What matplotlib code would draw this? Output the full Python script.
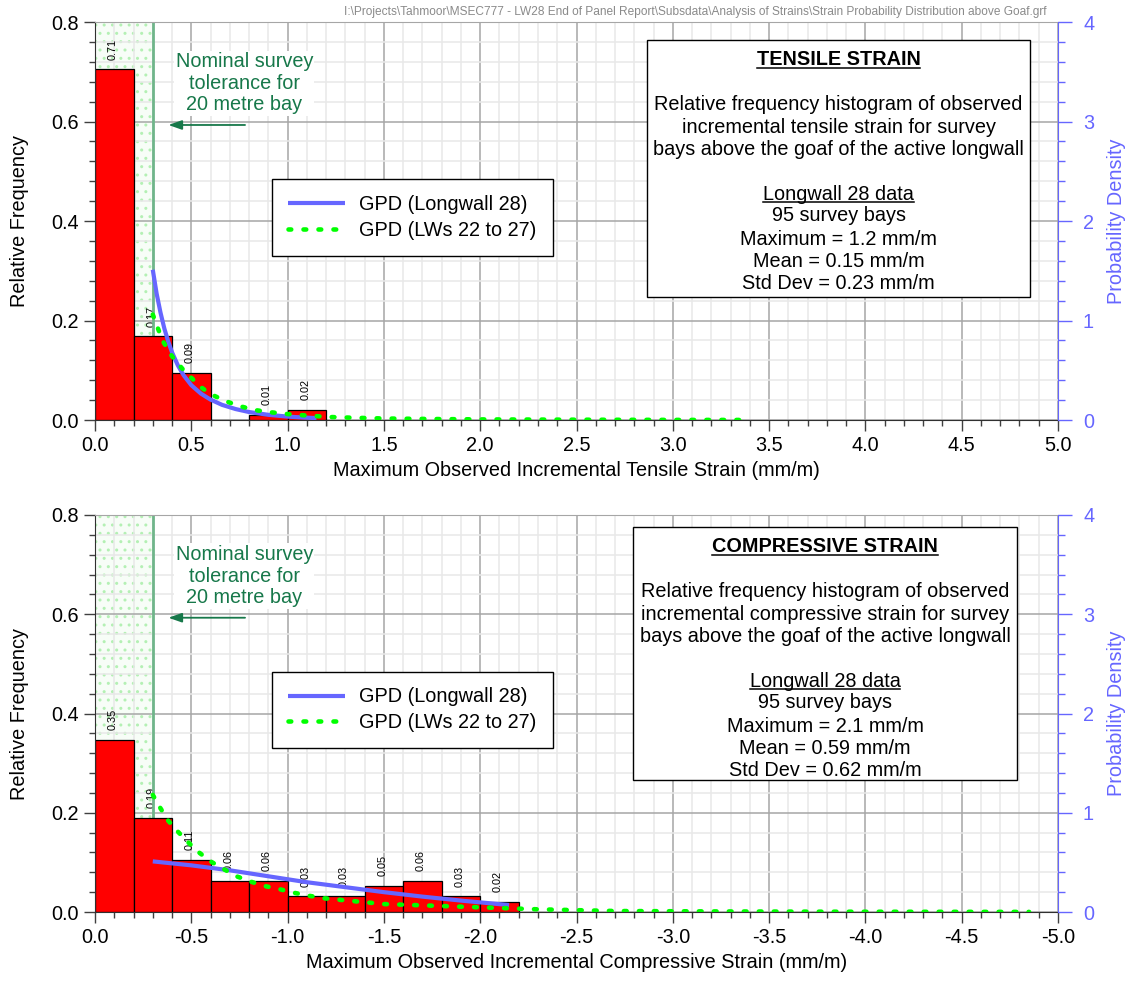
import matplotlib
matplotlib.use('Agg')
import matplotlib.pyplot as plt
from matplotlib.ticker import MultipleLocator, FixedLocator, FixedFormatter
from matplotlib.patches import Rectangle
from matplotlib.lines import Line2D

plt.rcParams['font.family'] = ['Liberation Sans', 'DejaVu Sans']

# ---------------- data ----------------
bin_width = 0.2

tens_bin_left = [0.0, 0.2, 0.4, 0.6, 0.8, 1.0]
tens_freq = [0.705, 0.168, 0.095, 0.0, 0.0105, 0.021]
tens_labels = ["0.71", "0.17", "0.09", "", "0.01", "0.02"]

comp_bin_left = [0.0, 0.2, 0.4, 0.6, 0.8, 1.0, 1.2, 1.4, 1.6, 1.8, 2.0]
comp_freq = [0.347, 0.189, 0.105, 0.063, 0.063, 0.0316, 0.0316, 0.0526, 0.063, 0.0316, 0.021]
comp_labels = ["0.35", "0.19", "0.11", "0.06", "0.06", "0.03", "0.03", "0.05", "0.06", "0.03", "0.02"]

# GPD probability density curves
tens_lw28_x = [0.30, 0.32, 0.34, 0.36, 0.38, 0.40, 0.43, 0.46, 0.50, 0.55, 0.60, 0.66, 0.73, 0.80,
               0.90, 1.00, 1.08, 1.15]
tens_lw28_d = [1.51, 1.27, 1.08, 0.92, 0.79, 0.68, 0.55, 0.45, 0.35, 0.265, 0.205, 0.152, 0.110, 0.080,
               0.052, 0.034, 0.025, 0.019]

tens_lw22_x = [0.30, 0.35, 0.40, 0.46, 0.55, 0.60, 0.685, 0.75, 0.83, 0.90, 1.0, 1.1, 1.22, 1.3, 1.5,
               1.75, 2.0, 2.5, 3.0, 3.4]
tens_lw22_d = [1.06, 0.80, 0.64, 0.50, 0.33, 0.26, 0.185, 0.14, 0.10, 0.08, 0.06, 0.045, 0.03, 0.025, 0.015,
               0.01, 0.006, 0.003, 0.001, 0.0005]

comp_lw28_x = [0.30, 0.50, 0.70, 0.90, 1.10, 1.30, 1.50, 1.70, 1.90, 2.15]
comp_lw28_d = [0.51, 0.47, 0.42, 0.36, 0.30, 0.25, 0.20, 0.155, 0.115, 0.07]

comp_lw22_x = [0.30, 0.34, 0.38, 0.43, 0.485, 0.54, 0.60, 0.67, 0.74, 0.81, 0.88, 0.96, 1.03, 1.11, 1.19,
               1.5, 2.0, 2.3, 2.7, 3.2, 3.8, 4.3, 4.85]
comp_lw22_d = [1.18, 1.045, 0.92, 0.81, 0.70, 0.60, 0.51, 0.43, 0.356, 0.305, 0.262, 0.229, 0.195, 0.164, 0.138,
               0.08, 0.047, 0.027, 0.01, 0.006, 0.003, 0.002, 0.001]

x_ticks = [0.0, 0.5, 1.0, 1.5, 2.0, 2.5, 3.0, 3.5, 4.0, 4.5, 5.0]
tens_xtick_labels = ["0.0", "0.5", "1.0", "1.5", "2.0", "2.5", "3.0", "3.5", "4.0", "4.5", "5.0"]
comp_xtick_labels = ["0.0", "-0.5", "-1.0", "-1.5", "-2.0", "-2.5", "-3.0", "-3.5", "-4.0", "-4.5", "-5.0"]
y_ticks = [0.0, 0.2, 0.4, 0.6, 0.8]
y_tick_labels = ["0.0", "0.2", "0.4", "0.6", "0.8"]
pd_ticks = [0, 1, 2, 3, 4]
pd_tick_labels = ["0", "1", "2", "3", "4"]

tolerance = 0.3

tens_box_lines = ["TENSILE STRAIN", "Relative frequency histogram of observed",
                  "incremental tensile strain for survey", "bays above the goaf of the active longwall",
                  "Longwall 28 data", "95 survey bays", "Maximum = 1.2 mm/m", "Mean = 0.15 mm/m",
                  "Std Dev = 0.23 mm/m"]
comp_box_lines = ["COMPRESSIVE STRAIN", "Relative frequency histogram of observed",
                  "incremental compressive strain for survey", "bays above the goaf of the active longwall",
                  "Longwall 28 data", "95 survey bays", "Maximum = 2.1 mm/m", "Mean = 0.59 mm/m",
                  "Std Dev = 0.62 mm/m"]

header = ("I:\\Projects\\Tahmoor\\MSEC777 - LW28 End of Panel Report\\Subsdata\\Analysis of Strains"
          "\\Strain Probability Distribution above Goaf.grf")

# ---------------- styles ----------------
W, H = 1133, 990
FS = 14.3
BLUE = '#6666ff'
GREEN = '#00ff00'
DKGREEN = '#17784a'

fig = plt.figure(figsize=(W / 100, H / 100), dpi=100)


def axrect(l, t, r, b):
    return [l / W, 1 - b / H, (r - l) / W, (b - t) / H]


def draw_panel(rect, bins, freq, labels, lw28x, lw28d, lw22x, lw22d, xlabels, xlabel):
    ax = fig.add_axes(rect)
    ax.set_xlim(0, 5)
    ax.set_ylim(0, 0.8)
    ax.xaxis.set_major_locator(FixedLocator(x_ticks))
    ax.xaxis.set_major_formatter(FixedFormatter(xlabels))
    ax.xaxis.set_minor_locator(MultipleLocator(0.1))
    ax.yaxis.set_major_locator(FixedLocator(y_ticks))
    ax.yaxis.set_major_formatter(FixedFormatter(y_tick_labels))
    ax.yaxis.set_minor_locator(MultipleLocator(0.04))
    ax.set_axisbelow(True)
    ax.grid(which='major', color='#a6a6a6', lw=1.1)
    ax.grid(which='minor', color='#e8e8e8', lw=1.1)
    ax.tick_params(which='major', direction='out', length=8, width=1, color='#404040',
                   labelsize=FS, labelcolor='black')
    ax.tick_params(which='minor', direction='out', length=4, width=1, color='#404040')
    ax.tick_params(axis='y', which='both', right=False)
    for s in ('left', 'bottom'):
        ax.spines[s].set_color('#303030')
    ax.spines['top'].set_color('#a6a6a6')
    ax.spines['right'].set_visible(False)

    # tolerance zone
    ax.axvspan(0, tolerance, facecolor='#f7fdf7', edgecolor='#b4f0b4', hatch='..', lw=0, zorder=0.4)
    ax.axvline(tolerance, color='#6fb58a', lw=2, zorder=1.8)

    # histogram
    ax.bar(bins, freq, width=bin_width, align='edge', color='#ff0000', edgecolor='black', lw=0.9, zorder=2)
    for b, f, lab in zip(bins, freq, labels):
        if lab:
            ax.annotate(lab, xy=(b + bin_width / 2, f), xytext=(-1, 7), textcoords='offset points',
                        rotation=90, ha='center', va='bottom', fontsize=7.8, zorder=1.5)

    # annotation
    ax.text(0.775, 0.677, "Nominal survey\ntolerance for\n20 metre bay", ha='center', va='center',
            color=DKGREEN, fontsize=FS, linespacing=1.18, zorder=3,
            bbox=dict(facecolor='white', edgecolor='none', pad=1))
    ax.annotate('', xy=(0.381, 0.593), xytext=(0.779, 0.593),
                arrowprops=dict(arrowstyle='-|>,head_length=0.8,head_width=0.28', color=DKGREEN, lw=1.3,
                                shrinkA=0, shrinkB=0), zorder=3)

    ax.set_xlabel(xlabel, fontsize=FS)
    ax.set_ylabel('Relative Frequency', fontsize=FS)
    ax.yaxis.set_label_coords((29 - 95) / 963, 0.5)

    # density axis
    ax2 = ax.twinx()
    ax2.set_ylim(0, 4)
    ax2.yaxis.set_major_locator(FixedLocator(pd_ticks))
    ax2.yaxis.set_major_formatter(FixedFormatter(pd_tick_labels))
    ax2.yaxis.set_minor_locator(MultipleLocator(0.2))
    ax2.tick_params(axis='y', which='major', direction='out', length=10, width=1, color=BLUE,
                    labelcolor=BLUE, labelsize=FS, pad=8)
    ax2.tick_params(axis='y', which='minor', direction='out', length=5, width=1, color=BLUE)
    for s in ('left', 'top', 'bottom'):
        ax2.spines[s].set_visible(False)
    ax2.spines['right'].set_color(BLUE)
    ax2.set_ylabel('Probability Density', fontsize=FS, color=BLUE)
    ax2.yaxis.set_label_coords((1107 - 95) / 963, 0.5)

    ax2.plot(lw28x, lw28d, color=BLUE, lw=3, solid_capstyle='butt', solid_joinstyle='round',
             label='GPD (Longwall 28)')
    ax2.plot(lw22x, lw22d, color=GREEN, lw=3.3, dashes=(0.6, 2.67), dash_capstyle='round',
             label='GPD (LWs 22 to 27)')
    leg = ax2.legend(loc='upper left', bbox_to_anchor=((272 - 95) / 963, (420 - 179) / 398), borderaxespad=0,
                     fontsize=FS, frameon=True, fancybox=False, edgecolor='black', framealpha=1,
                     borderpad=0.8, labelspacing=0.35, handlelength=2.9, handletextpad=0.7)
    leg.get_frame().set_linewidth(1.0)
    return ax, ax2


draw_panel(axrect(95, 22, 1058, 420), tens_bin_left, tens_freq, tens_labels,
           tens_lw28_x, tens_lw28_d, tens_lw22_x, tens_lw22_d, tens_xtick_labels,
           'Maximum Observed Incremental Tensile Strain (mm/m)')
draw_panel(axrect(95, 515, 1058, 912), comp_bin_left, comp_freq, comp_labels,
           comp_lw28_x, comp_lw28_d, comp_lw22_x, comp_lw22_d, comp_xtick_labels,
           'Maximum Observed Incremental Compressive Strain (mm/m)')

# header
fig.text(1047 / W, 1 - 12 / H, header, ha='right', va='center', color='#8a8a8a', fontsize=8.6,
         family=['Liberation Sans Narrow', 'Liberation Sans', 'DejaVu Sans'])

# info boxes
line_offsets = [25.3, 69.7, 92.7, 114.7, 159.7, 181.3, 204.7, 227.0, 248.7]
underlined = [0, 4]
renderer = fig.canvas.get_renderer()


def info_box(l, t, r, b, lines):
    fig.add_artist(Rectangle((l / W, 1 - b / H), (r - l) / W, (b - t) / H, transform=fig.transFigure,
                             facecolor='white', edgecolor='black', lw=1.0, zorder=2))
    cx = (l + r) / 2
    for i, (txt, off) in enumerate(zip(lines, line_offsets)):
        yb = t + off
        tt = fig.text(cx / W, 1 - yb / H, txt, ha='center', va='baseline', fontsize=FS,
                      fontweight='bold' if i == 0 else 'normal', zorder=3)
        if i in underlined:
            bb = tt.get_window_extent(renderer)
            yu = yb + 2.3
            fig.add_artist(Line2D([bb.x0 / W, bb.x1 / W], [1 - yu / H, 1 - yu / H], transform=fig.transFigure,
                                  color='black', lw=1.1, zorder=3))


info_box(647, 40, 1030, 297, tens_box_lines)
info_box(633, 527, 1017, 780, comp_box_lines)

fig.savefig('out.png', dpi=100)
